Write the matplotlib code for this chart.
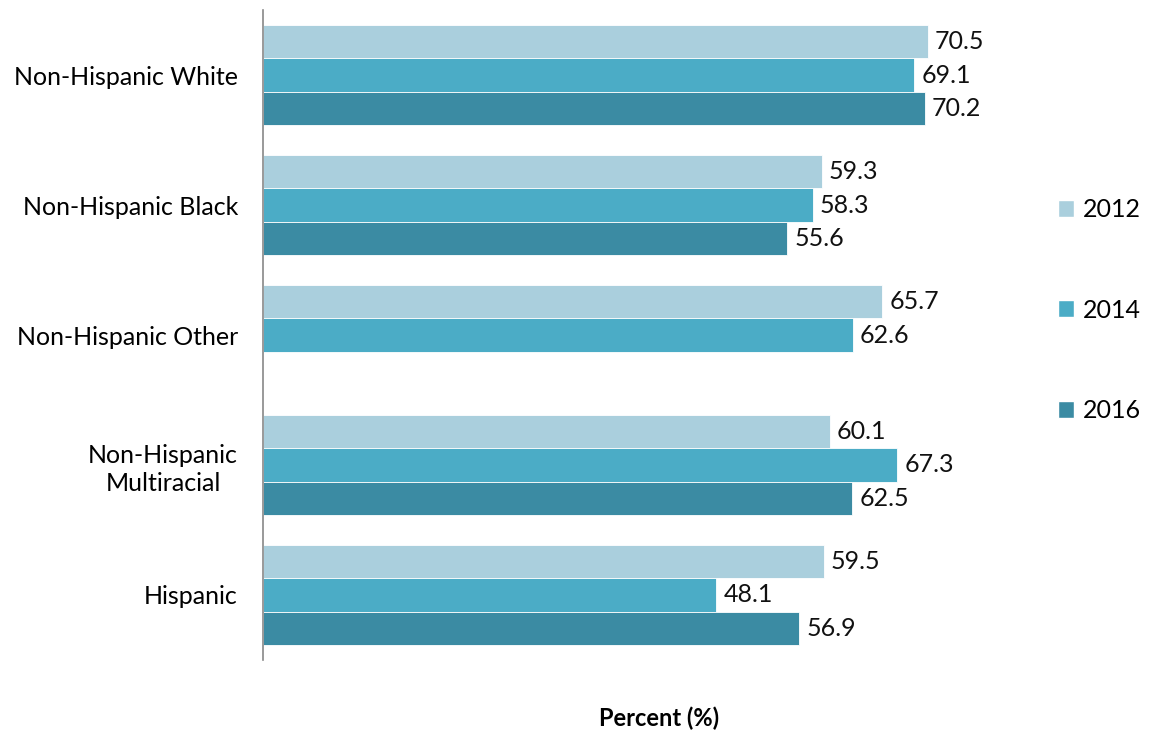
import numpy as np
import matplotlib
matplotlib.use("Agg")
import matplotlib.pyplot as plt
from matplotlib.patches import Patch

plt.rcParams["font.family"] = ["Lato", "DejaVu Sans"]

categories = ["Non-Hispanic White", "Non-Hispanic Black", "Non-Hispanic Other",
              "Non-Hispanic\nMultiracial", "Hispanic"]
years = ["2012", "2014", "2016"]
vals_2012 = [70.5, 59.3, 65.7, 60.1, 59.5]
vals_2014 = [69.1, 58.3, 62.6, 67.3, 48.1]
vals_2016 = [70.2, 55.6, np.nan, 62.5, 56.9]
colors = ["#AACFDD", "#4BACC6", "#3B8BA3"]

W, H = 1150, 731
fig = plt.figure(figsize=(W / 100, H / 100), dpi=100)
ax = fig.add_axes([263 / W, 1 - 660 / H, (1053 - 263) / W, 650 / H])

bar_h = 0.255
y = np.arange(len(categories))
series = [vals_2012, vals_2014, vals_2016]
for k, (vals, col) in enumerate(zip(series, colors)):
    offs = (k - 1) * bar_h
    for i, v in enumerate(vals):
        if np.isnan(v):
            continue
        ax.barh(y[i] + offs, v, height=bar_h, color=col, edgecolor="white", linewidth=0.6)
        ax.annotate(f"{v:.1f}", (v, y[i] + offs), xytext=(5, 0), textcoords="offset points",
                    ha="left", va="center", fontsize=18, color="#111111")

ax.set_ylim(len(categories) - 0.5, -0.5)
ax.set_xlim(0, 83.8)
ax.set_yticks(y)
ax.set_yticklabels(categories, fontsize=18, ha="right", multialignment="center",
                   linespacing=1.25)
ax.tick_params(axis="y", length=0, pad=18)
ax.set_xticks([])
for s in ["top", "right", "bottom"]:
    ax.spines[s].set_visible(False)
ax.spines["left"].set_color("#888888")
ax.spines["left"].set_linewidth(1.2)

fig.text(659 / W, 1 - 718 / H, "Percent (%)", ha="center", va="center",
         fontsize=17, fontweight="bold")

handles = [Patch(facecolor=c, edgecolor="white") for c in colors]
fig.legend(handles, years, loc="center left", bbox_to_anchor=(1058 / W, 1 - 310 / H),
           frameon=False, fontsize=18, handlelength=0.65, handleheight=0.65,
           handletextpad=0.35, labelspacing=3.1, borderpad=0, borderaxespad=0)

fig.savefig("out.png", dpi=100)
